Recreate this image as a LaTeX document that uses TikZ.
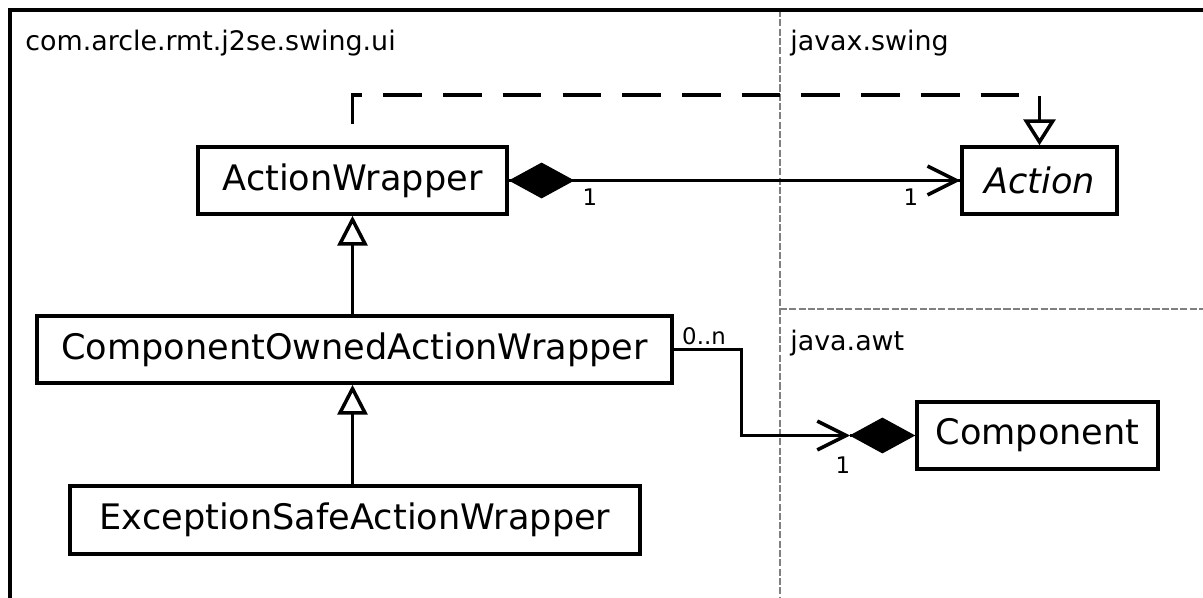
\documentclass[tikz,border=0pt]{standalone}
\usepackage{fontspec}
\setmainfont{DejaVu Sans}
\usetikzlibrary{arrows.meta}

\begin{document}
\begin{tikzpicture}[x=0.02cm,y=-0.02cm,
        cls/.style={draw,line width=2pt,minimum height=1.34cm,inner sep=0pt,
            font=\fontsize{20}{24}\selectfont},
        pkg/.style={anchor=west,inner sep=0pt,font=\fontsize{15.3}{18}\selectfont},
        mult/.style={inner sep=0pt,font=\fontsize{13}{15}\selectfont},
        conn/.style={line width=2pt},
        pkgline/.style={line width=1.6pt,black!50,dash pattern=on 4pt off 1.3pt},
        gen/.style={conn,-{Triangle[open,length=17pt,width=17pt]}},
        real/.style={conn,dash pattern=on 22pt off 12pt,dash phase=22pt,
            -{Triangle[open,length=14.7pt,width=18.1pt]}},
        assoc/.style={conn,-{Straight Barb[length=16.4pt,width=16.4pt]}},
        owner/.style={conn,{Diamond[fill=black,length=37.4pt,width=20.4pt]}-}]
    \useasboundingbox (0,0) rectangle (1203,598);

    \draw[pkgline]
        (780,10) -- (780,598)
        (780,309) -- (1203,309);
    \draw[line width=2pt]
        (10,598) -- (10,10) -- (1203,10);

    \node[pkg] (ui) at (25,43) {com.arcle.rmt.j2se.swing.ui};
    \node[pkg] (swing) at (790,43) {javax.swing};
    \node[pkg] (awt) at (790,343) {java.awt};

    \node[cls,minimum width=6.18cm] (aw) at (352.5,180.5) {ActionWrapper};
    \node[cls,minimum width=3.1cm] (act) at (1039.5,180.5) {\itshape Action};
    \node[cls,minimum width=12.7cm] (cow) at (354.5,349.5) {ComponentOwnedActionWrapper};
    \node[cls,minimum width=11.4cm,minimum height=1.36cm] (esw) at (355,520) {ExceptionSafeActionWrapper};
    \node[cls,minimum width=4.82cm] (cmp) at (1037.5,435.5) {Component};

    \draw[real] (aw.north) -- ++(0,-50) -| (act.north);
    \draw[owner] (aw.east) -- (act.west);
    \draw[assoc] (aw.east) -- (act.west);
    \draw[gen] (cow.north -| aw.south) -- (aw.south);
    \draw[gen] (esw.north -| aw.south) -- (cow.south -| aw.south);

    \coordinate (cj) at (850,435.5);
    \draw[assoc] (cow.east) -- ++(68,0) |- (cj);
    \draw[owner] (cmp.west) -- (cj);

    \node[mult] (m1) at (590,197) {1};
    \node[mult] (m2) at (911,197) {1};
    \node[mult] (m3) at (704,336) {0..n};
    \node[mult] (m4) at (843,465) {1};
\end{tikzpicture}
\end{document}
